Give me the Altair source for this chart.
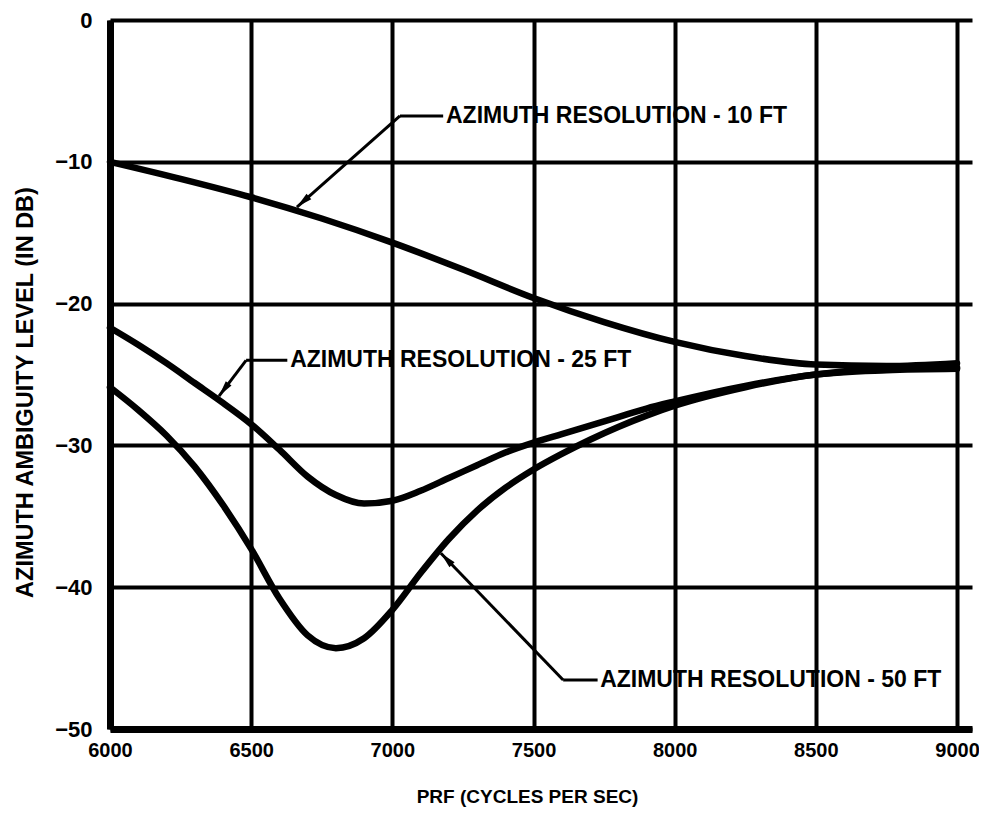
import math
import altair as alt
import pandas as pd

# ---------------- data ----------------
prf_10 = [6000, 6250, 6500, 6750, 7000, 7250, 7500, 7750, 8000, 8250, 8500, 8750, 9000]
db_10 = [-10.0, -11.2, -12.5, -14.0, -15.7, -17.6, -19.6, -21.3, -22.7, -23.7, -24.3, -24.4, -24.2]

prf_25 = [6000, 6100, 6200, 6300, 6400, 6500, 6600, 6700, 6800, 6900, 7000, 7100, 7200,
          7300, 7400, 7500, 7600, 7700, 7800, 7900, 8000, 8250, 8500, 8750, 9000]
db_25 = [-21.7, -22.9, -24.2, -25.6, -27.0, -28.5, -30.3, -32.2, -33.5, -34.1, -33.9, -33.2, -32.3,
         -31.4, -30.5, -29.8, -29.2, -28.6, -28.0, -27.4, -26.9, -25.8, -25.0, -24.6, -24.5]

prf_50 = [6000, 6100, 6200, 6300, 6400, 6500, 6600, 6700, 6800, 6900, 7000, 7100, 7200,
          7300, 7400, 7500, 7600, 7700, 7800, 7900, 8000, 8250, 8500, 8750, 9000]
db_50 = [-25.9, -27.5, -29.3, -31.5, -34.2, -37.3, -40.8, -43.4, -44.3, -43.6, -41.6, -39.0, -36.6,
         -34.6, -33.0, -31.7, -30.6, -29.6, -28.7, -27.9, -27.2, -25.9, -25.0, -24.7, -24.6]

x_ticks = [6000, 6500, 7000, 7500, 8000, 8500, 9000]
y_ticks = [0, -10, -20, -30, -40, -50]

ann_text = ["AZIMUTH RESOLUTION - 10 FT", "AZIMUTH RESOLUTION - 25 FT", "AZIMUTH RESOLUTION - 50 FT"]
ann_x = [7190, 6638, 7736]          # start of each label (PRF)
ann_y = [-6.77, -24.0, -46.54]      # label middle (dB)
lead_corner_x = [7027, 6482, 7605]  # bend of each leader
lead_end_x = [7180, 6628, 7727]     # end of the short horizontal piece
tip_x = [6662, 6386, 7172]          # arrow tips on the curves
tip_y = [-13.19, -26.52, -37.6]

# ---------------- layout ----------------
X_MIN, X_MAX = 6000, 9053
Y_MIN, Y_MAX = -50, 0
W, H = 862, 709
FONT = "Liberation Sans"

rows = []
for name, xs, ys in [("10 FT", prf_10, db_10), ("25 FT", prf_25, db_25), ("50 FT", prf_50, db_50)]:
    for a, b in zip(xs, ys):
        rows.append({"series": name, "prf": a, "db": b})
curves = pd.DataFrame(rows)

texts = pd.DataFrame({"prf": ann_x, "db": ann_y, "label": ann_text})

kx = W / (X_MAX - X_MIN)
ky = H / (Y_MAX - Y_MIN)
segs, heads = [], []
for i in range(3):
    segs.append({"x1": lead_corner_x[i], "y1": ann_y[i], "x2": lead_end_x[i], "y2": ann_y[i]})
    segs.append({"x1": lead_corner_x[i], "y1": ann_y[i], "x2": tip_x[i], "y2": tip_y[i]})
    dx = (tip_x[i] - lead_corner_x[i]) * kx
    dy = -(tip_y[i] - ann_y[i]) * ky
    ang = math.degrees(math.atan2(dx, -dy)) % 360
    heads.append({"prf": tip_x[i], "db": tip_y[i], "ang": ang})
segs = pd.DataFrame(segs)
heads = pd.DataFrame(heads)

xscale = alt.Scale(domain=[X_MIN, X_MAX], nice=False, zero=False)
yscale = alt.Scale(domain=[Y_MIN, Y_MAX], nice=False, zero=False)

common_axis = dict(
    grid=True, gridColor="black", gridWidth=4, gridOpacity=1,
    domain=True, domainColor="black", domainWidth=7,
    ticks=False, tickSize=0,
    labelFont=FONT, labelFontWeight="bold", labelColor="black",
    labelFlush=False, labelOverlap=False,
    titleFont=FONT, titleFontWeight="bold", titleColor="black",
)

x_axis = alt.Axis(values=x_ticks, title="PRF (CYCLES PER SEC)", labelFontSize=20,
                  labelPadding=11, format="d", titleFontSize=19, titleX=417, titleY=67,
                  titleBaseline="middle", titleAlign="center", **common_axis)
y_axis = alt.Axis(values=y_ticks, title="AZIMUTH AMBIGUITY LEVEL (IN DB)", labelFontSize=22,
                  labelPadding=18, format="d", titleFontSize=23.5, titleX=-85, titleY=372,
                  titleAngle=270, titleBaseline="middle", titleAlign="center", **common_axis)

lines = alt.Chart(curves).mark_line(
    color="black", strokeWidth=6.5, interpolate="monotone", strokeCap="round", strokeJoin="round"
).encode(
    x=alt.X("prf:Q", scale=xscale, axis=x_axis),
    y=alt.Y("db:Q", scale=yscale, axis=y_axis),
    detail="series:N",
)

leaders = alt.Chart(segs).mark_rule(color="black", strokeWidth=3).encode(
    x=alt.X("x1:Q", scale=xscale), y=alt.Y("y1:Q", scale=yscale),
    x2="x2:Q", y2="y2:Q",
)

arrow_path = "M0,0 L0.45,2 L-0.45,2 Z"
arrowheads = alt.Chart(heads).mark_point(
    shape=arrow_path, filled=True, color="black", opacity=1, size=256, strokeWidth=0
).encode(
    x=alt.X("prf:Q", scale=xscale), y=alt.Y("db:Q", scale=yscale),
    angle=alt.Angle("ang:Q", scale=None),
)

labels = alt.Chart(texts).mark_text(
    align="left", baseline="middle", font=FONT, fontWeight="bold", fontSize=23, color="black"
).encode(
    x=alt.X("prf:Q", scale=xscale), y=alt.Y("db:Q", scale=yscale), text="label:N",
)

chart = alt.layer(lines, leaders, arrowheads, labels).properties(
    width=W, height=H,
    padding={"left": 102, "top": 12, "right": 7, "bottom": 82},
    autosize=alt.AutoSizeParams(type="none"),
    background="white",
).configure_view(strokeWidth=0)

chart.save("out.html", embed_options={"renderer": "svg", "actions": False})
